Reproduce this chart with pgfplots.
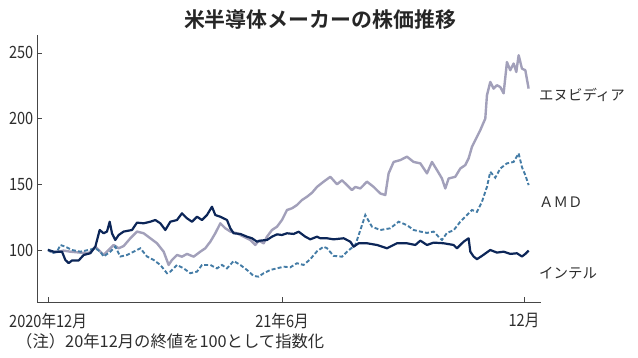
\documentclass[border=0pt]{standalone}
\usepackage{pgfplots}
\pgfplotsset{compat=1.18}
\usepackage{fontspec}
\setmainfont{Noto Sans CJK JP}
\newfontfamily\cond[FakeStretch=0.86]{Noto Sans CJK JP}
\newfontfamily\cjkbold{Noto Sans CJK JP Bold}
\definecolor{nvid}{RGB}{162,160,186}
\definecolor{intl}{RGB}{12,38,88}
\definecolor{amdc}{RGB}{68,124,166}
\definecolor{axc}{RGB}{70,70,70}
\definecolor{txt}{RGB}{45,45,45}
\begin{document}
\begin{tikzpicture}[x=1bp,y=1bp]
\path[use as bounding box] (-37.5,-55) rectangle (600.5,302);
\begin{axis}[
  at={(0,0)}, anchor=south west,
  scale only axis, width=503.5bp, height=267bp,
  xmin=-0.265, xmax=12.43, ymin=60.4, ymax=263.6,
  axis x line=bottom, axis y line=left,
  axis line style={draw=axc, line width=0.8bp, -},
  tick align=inside, major tick length=5bp,
  tick style={draw=axc, line width=0.7bp},
  xtick={0,5.9,12}, xticklabels={2020年12月,21年6月,12月},
  ytick={100,150,200,250},
  /pgf/number format/assume math mode=true,
  ticklabel style={font=\cond\fontsize{17}{18}\selectfont, text=txt, inner sep=0pt},
  yticklabel style={anchor=east, xshift=-4bp},
  xticklabel style={anchor=north, yshift=-11bp},
  clip=false,
]
% Nvidia
\addplot[nvid, line width=2.4bp, line join=round] coordinates {
(0,100) (0.143,98) (0.395,99.5) (0.563,98.7) (0.815,98) (1.025,97.5) (1.193,102.5)
(1.319,98.7) (1.403,96.2) (1.529,100) (1.655,103.8) (1.782,101.3) (1.908,103)
(2.076,108.9) (2.244,114) (2.412,112.7) (2.580,108.9) (2.748,105.1) (2.916,98.7)
(3.042,88.6) (3.126,92.4) (3.252,96.2) (3.378,94.9) (3.504,97) (3.672,94.9)
(3.840,98.7) (3.966,101.3) (4.092,106.3) (4.218,112.7) (4.345,120.3) (4.471,116.5)
(4.597,114) (4.765,112.7) (4.933,110.1) (5.101,107.6) (5.227,103.8) (5.311,107.1)
(5.437,105.1) (5.521,110.1) (5.647,115.2) (5.773,117.7) (5.899,122.8) (6.025,130.4)
(6.151,131.7) (6.277,134.2) (6.403,138) (6.529,140.5) (6.655,143.5) (6.782,148)
(6.950,152) (7.118,155.7) (7.286,150) (7.412,153) (7.538,149.4) (7.664,145.6)
(7.748,148) (7.874,146.8) (8.042,152) (8.210,148) (8.378,143) (8.504,141.8)
(8.588,158.3) (8.714,167) (8.882,168.4) (9.050,171) (9.218,167) (9.387,165.9)
(9.555,158.3) (9.681,167) (9.807,160.8) (9.933,154.4) (10.017,146.8) (10.101,154.4)
(10.269,155.7) (10.395,162) (10.521,164.6) (10.605,169.7) (10.689,178.5) (10.773,183.6)
(10.899,191.2) (11.025,200) (11.067,217.7) (11.151,227.9) (11.235,222.8) (11.319,225.4)
(11.403,224) (11.487,219.2) (11.571,243) (11.655,236.8) (11.739,241.9) (11.807,235.5)
(11.866,248.2) (11.950,238) (12.034,236.8) (12.118,222.8)
};
% AMD
\addplot[amdc, line width=1.9bp, dash pattern=on 4bp off 2.2bp] coordinates {
(0,100.5) (0.101,97.5) (0.227,98.7) (0.311,103.8) (0.437,102.5) (0.605,100)
(0.815,98.7) (1.025,100) (1.193,101.3) (1.319,98.7) (1.403,95) (1.571,98.7)
(1.697,102.5) (1.824,95) (1.992,96.2) (2.160,98.7) (2.328,101.3) (2.496,95)
(2.664,92.4) (2.832,88.6) (3.0,82.3) (3.084,83.5) (3.252,88.6) (3.420,86)
(3.588,82.3) (3.756,83.5) (3.882,88.6) (4.092,88.6) (4.261,86) (4.387,88.6)
(4.513,86) (4.681,91.6) (4.849,88.6) (5.017,84.8) (5.185,80.2) (5.311,79.7)
(5.437,82.3) (5.605,84.8) (5.773,86) (5.941,87.3) (6.109,86.8) (6.277,89.9)
(6.445,88.6) (6.613,93) (6.782,99) (6.950,102.5) (7.034,101.3) (7.202,95.5)
(7.412,94.9) (7.538,98.7) (7.748,103.8) (7.874,115) (8.0,126.6) (8.168,117.7)
(8.378,115.2) (8.630,116.5) (8.840,121.5) (9.050,118.9) (9.218,115.2) (9.387,114)
(9.555,113) (9.723,114) (9.849,110) (9.933,107.6) (10.059,113) (10.227,115)
(10.395,121.5) (10.563,126.6) (10.689,130.4) (10.815,129) (10.941,136.7) (11.067,148)
(11.151,159.5) (11.277,155) (11.403,162) (11.571,165.9) (11.739,167) (11.866,173.5)
(11.950,163) (12.034,157) (12.118,149.4)
};
% Intel
\addplot[intl, line width=2.2bp, line join=round] coordinates {
(0,100) (0.143,98.7) (0.353,98.7) (0.437,92.4) (0.521,90) (0.605,92) (0.773,92)
(0.899,96.2) (1.067,97.5) (1.193,102.5) (1.303,115.2) (1.403,112.7) (1.487,114)
(1.555,121.5) (1.613,112.7) (1.697,107.6) (1.782,111.4) (1.908,114) (2.118,115.2)
(2.244,120.8) (2.412,120.3) (2.580,121.5) (2.706,122.8) (2.832,120.3) (2.958,115.2)
(3.084,121.5) (3.252,122.8) (3.378,127.9) (3.504,124.1) (3.630,121.5) (3.756,125.3)
(3.882,122.8) (4.008,126.6) (4.134,132.9) (4.218,126.6) (4.345,125.3) (4.513,122.8)
(4.597,116.5) (4.681,112.7) (4.849,112.2) (5.017,110.1) (5.143,108.9) (5.269,106.3)
(5.353,107.1) (5.521,107.6) (5.647,110.1) (5.773,111.9) (5.899,111.4) (6.025,112.7)
(6.193,112.2) (6.319,113.9) (6.487,110.1) (6.613,108.1) (6.782,110.1) (6.866,108.9)
(7.034,108.9) (7.202,108.1) (7.454,108.9) (7.622,106.3) (7.706,102.5) (7.832,105.1)
(8.042,105.1) (8.294,103.8) (8.546,101.3) (8.798,105.1) (9.050,105.1) (9.261,103.8)
(9.387,107.1) (9.555,103.8) (9.723,105.6) (9.975,105.1) (10.227,103.8) (10.311,101.3)
(10.479,106.3) (10.605,108.9) (10.647,98.7) (10.731,95) (10.815,93) (10.941,95.5)
(11.151,100) (11.319,98) (11.487,98.7) (11.655,97) (11.824,97.5) (11.950,95)
(12.034,97) (12.118,99.5)
};
\end{axis}
\node[font=\cjkbold\fontsize{21}{24}\selectfont, text=black!85] at (282.5,282) {米半導体メーカーの株価推移};
\node[anchor=west, inner sep=0pt, font=\fontsize{14.5}{16}\selectfont, text=txt] at (501.5,207) {エヌビディア};
\node[anchor=west, inner sep=0pt, font=\fontsize{14.5}{16}\selectfont, text=txt] at (501.5,100) {ＡＭＤ};
\node[anchor=west, inner sep=0pt, font=\fontsize{14.5}{16}\selectfont, text=txt] at (501.5,29) {インテル};
\node[anchor=west, inner sep=0pt, font=\fontsize{16.4}{18}\selectfont, text=txt] at (-21.5,-39) {（注）20年12月の終値を100として指数化};
\end{tikzpicture}
\end{document}
